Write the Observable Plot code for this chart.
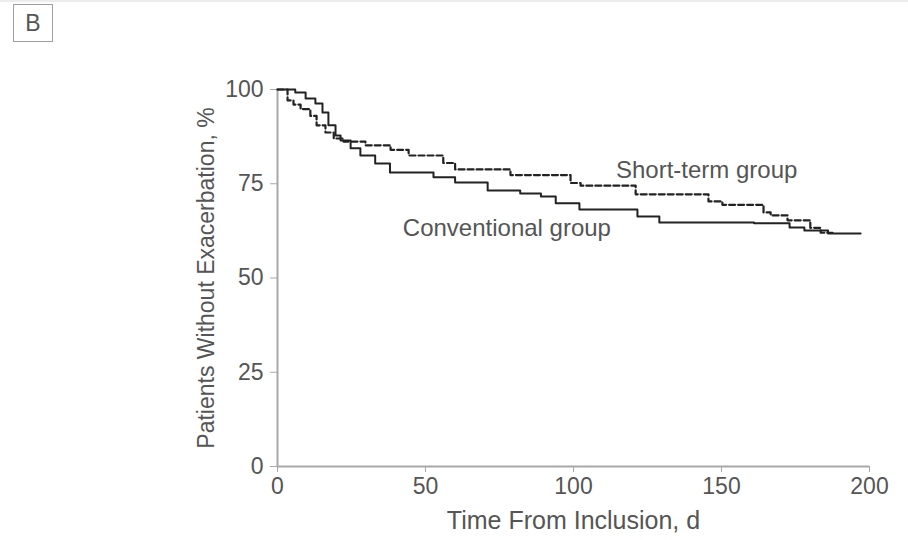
<!DOCTYPE html>
<html>
<head>
<meta charset="utf-8">
<script src="https://cdn.jsdelivr.net/npm/d3@7"></script>
<script src="https://cdn.jsdelivr.net/npm/@observablehq/plot@0.6"></script>
<style>
  html, body { margin: 0; padding: 0; background: #fff; }
  body { width: 908px; height: 540px; position: relative; overflow: hidden; font-family: "Liberation Sans", Arial, sans-serif; }
  #topline { position: absolute; left: 0; top: 0; width: 908px; height: 2px; background: #ececec; }
  #panel { position: absolute; left: 13px; top: 4px; width: 38px; height: 36px; border: 1.5px solid #a0a0a0; color: #555; font-size: 23px; line-height: 36px; text-align: center; }
  #chart { position: absolute; left: 0; top: 0; }
</style>
</head>
<body>
<div id="topline"></div>
<div id="panel">B</div>
<div id="chart"></div>
<script>
// Conventional group (solid) — Kaplan–Meier steps
const convDays = [0, 4, 6, 9.5, 12.8, 15.2, 17.2, 19.6, 21.3, 24.7, 28, 33, 38, 52.7, 60, 71, 82, 89, 94, 102, 121.6, 129, 161, 173, 178, 186, 197];
const convPct  = [100, 100, 99.2, 97.6, 96.3, 93.9, 90.5, 87.8, 86.5, 84.4, 82.5, 80.4, 78.0, 76.7, 75.3, 73.2, 72.4, 71.6, 69.8, 68.2, 66.3, 64.7, 64.5, 63.4, 62.6, 61.8, 61.8];

// Short-term group (dashed)
const shortDays = [0, 3.4, 5.4, 7.8, 11.1, 13.2, 16.2, 19, 22.3, 29.7, 38.2, 44.3, 56, 60, 78.7, 99, 102.4, 121, 145.6, 150.3, 164.2, 166.6, 172.3, 180, 183.5, 187.5];
const shortPct  = [100, 97.1, 96, 94.8, 93, 90.5, 88.6, 87, 86.2, 85.2, 84, 82.5, 80.5, 78.8, 77.3, 75.2, 74.5, 72.2, 70.3, 69.4, 67.4, 66.6, 65.3, 63.3, 62, 62];

const xTicks = [0, 50, 100, 150, 200];
const yTicks = [0, 25, 50, 75, 100];

const labelTexts = ["Short-term group", "Conventional group"];
const labelDays  = [145, 77.5];
const labelPcts  = [78.5, 63.1];

const conv = convDays.map((d, i) => ({day: d, pct: convPct[i]}));
const short = shortDays.map((d, i) => ({day: d, pct: shortPct[i]}));
const labels = labelTexts.map((t, i) => ({text: t, day: labelDays[i], pct: labelPcts[i]}));

const axisColor = "#a8a8a8";
const textColor = "#555";

const chart = Plot.plot({
  width: 908,
  height: 540,
  marginLeft: 277,
  marginRight: 39,
  marginTop: 89,
  marginBottom: 74,
  style: {fontFamily: "'Liberation Sans', Arial, sans-serif", background: "transparent", overflow: "visible"},
  x: {domain: [0, 200]},
  y: {domain: [0, 100]},
  marks: [
    Plot.ruleX([0], {y1: 0, y2: 100, stroke: axisColor, strokeWidth: 2}),
    Plot.ruleY([0], {x1: 0, x2: 200, stroke: axisColor, strokeWidth: 2}),
    Plot.axisY({ticks: yTicks, tickSize: 7, tickPadding: 7, stroke: axisColor, fill: textColor, fontSize: 23, label: null}),
    Plot.axisY({ticks: [], label: "Patients Without Exacerbation, %", labelAnchor: "center", labelArrow: "none",
      labelOffset: 80, fill: textColor, fontSize: 23}),
    Plot.axisX({ticks: xTicks, tickSize: 6, tickPadding: 5, stroke: axisColor, fill: textColor, fontSize: 23, label: null}),
    Plot.axisX({ticks: [], label: "Time From Inclusion, d", labelAnchor: "center", labelArrow: "none",
      labelOffset: 62, fill: textColor, fontSize: 25}),
    Plot.line(conv, {x: "day", y: "pct", curve: "step-after", stroke: "#222", strokeWidth: 2}),
    Plot.line(short, {x: "day", y: "pct", curve: "step-after", stroke: "#222", strokeWidth: 2.2, strokeDasharray: "6,3"}),
    Plot.text(labels, {x: "day", y: "pct", text: "text", fill: textColor, fontSize: 24, textAnchor: "middle"})
  ]
});
document.getElementById("chart").appendChild(chart);
</script>
</body>
</html>
